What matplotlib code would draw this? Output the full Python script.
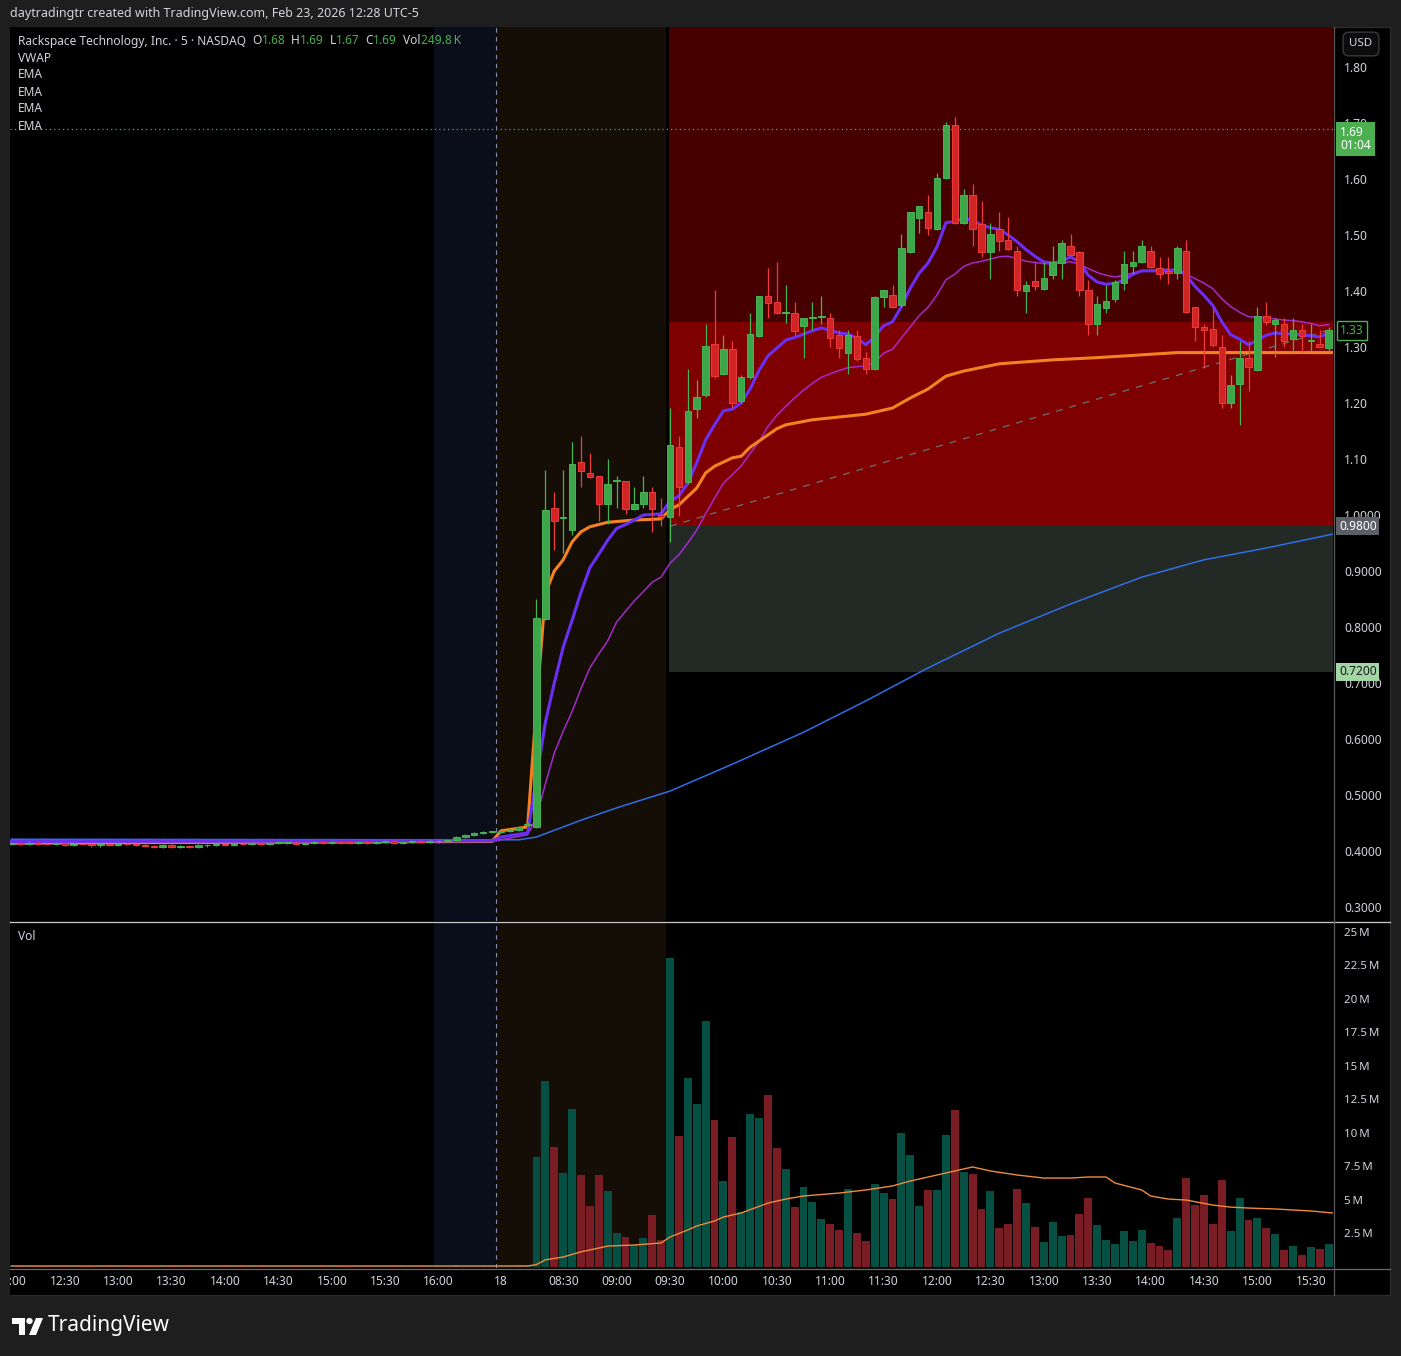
import matplotlib
matplotlib.use("Agg")
import matplotlib.pyplot as plt
import matplotlib.transforms as mtrans
from matplotlib.patches import Rectangle, Circle, Polygon
from matplotlib.lines import Line2D
import numpy as np

plt.rcParams['font.family'] = ['Noto Sans', 'DejaVu Sans']

W, H, DPI = 1401, 1356, 100

# ---------------- data ----------------
# bar index: 0 = 09:30 bar of Feb 18 regular session, 5-minute bars
first_bar = -74

opens = [
    0.413, 0.414, 0.413, 0.415, 0.413, 0.412, 0.414, 0.411, 0.413, 0.412, 0.410, 0.412, 0.411, 0.413, 0.412,
    0.411, 0.409, 0.408, 0.410, 0.407, 0.409, 0.408, 0.410, 0.411, 0.412, 0.411, 0.413, 0.412, 0.414, 0.413,
    0.414, 0.414, 0.415, 0.413, 0.414, 0.415, 0.414, 0.416, 0.415, 0.414, 0.416, 0.415, 0.416, 0.417, 0.415, 0.416, 0.417, 0.416,
    0.417, 0.418, 0.419, 0.425, 0.428, 0.432, 0.434,
    0.434, 0.436, 0.437, 0.446,
    0.443, 0.814, 1.0125, 0.994, 0.973, 1.095, 1.075, 1.070, 1.020, 1.060, 1.061, 1.011, 1.020, 1.041, 1.000,
    0.996, 1.121, 1.059, 1.189, 1.214, 1.305, 1.252, 1.296, 1.204, 1.246,
    1.320, 1.391, 1.380, 1.361, 1.361, 1.338, 1.352, 1.354, 1.352, 1.321,
    1.289, 1.320, 1.280, 1.261, 1.389, 1.393, 1.375, 1.470, 1.530, 1.541,
    1.511, 1.602, 1.696, 1.521, 1.571, 1.520, 1.470, 1.511, 1.491, 1.471,
    1.400, 1.418, 1.404, 1.429, 1.450, 1.480, 1.470, 1.402, 1.341, 1.370,
    1.386, 1.414, 1.445, 1.452, 1.471, 1.441, 1.436, 1.432, 1.471, 1.371,
    1.336, 1.332, 1.300, 1.200, 1.234, 1.280, 1.259, 1.355, 1.341, 1.341,
    1.314, 1.330, 1.311, 1.305, 1.298,
]
highs = [
    0.416, 0.416, 0.417, 0.417, 0.415, 0.416, 0.416, 0.415, 0.415, 0.414, 0.414, 0.414, 0.415, 0.415, 0.414,
    0.413, 0.411, 0.412, 0.412, 0.411, 0.411, 0.412, 0.413, 0.414, 0.414, 0.415, 0.415, 0.416, 0.416, 0.416,
    0.416, 0.417, 0.417, 0.416, 0.417, 0.417, 0.418, 0.418, 0.417, 0.418, 0.418, 0.418, 0.419, 0.419, 0.418, 0.419, 0.419, 0.419,
    0.420, 0.421, 0.427, 0.430, 0.434, 0.436, 0.436,
    0.438, 0.439, 0.444, 0.452,
    0.850, 1.080, 1.041, 1.080, 1.130, 1.141, 1.111, 1.070, 1.100, 1.070, 1.061, 1.050, 1.070, 1.050, 1.030,
    1.191, 1.141, 1.261, 1.241, 1.341, 1.402, 1.321, 1.311, 1.250, 1.361,
    1.391, 1.441, 1.452, 1.411, 1.380, 1.352, 1.380, 1.391, 1.361, 1.330,
    1.330, 1.330, 1.291, 1.391, 1.402, 1.411, 1.502, 1.541, 1.552, 1.571,
    1.611, 1.702, 1.711, 1.582, 1.591, 1.561, 1.521, 1.541, 1.532, 1.480,
    1.418, 1.452, 1.452, 1.480, 1.491, 1.502, 1.472, 1.420, 1.391, 1.411,
    1.420, 1.471, 1.471, 1.491, 1.480, 1.461, 1.461, 1.480, 1.491, 1.371,
    1.341, 1.370, 1.321, 1.250, 1.311, 1.311, 1.371, 1.380, 1.352, 1.352,
    1.352, 1.341, 1.341, 1.330, 1.336,
]
lows = [
    0.411, 0.411, 0.411, 0.411, 0.410, 0.410, 0.409, 0.409, 0.410, 0.408, 0.408, 0.409, 0.409, 0.410, 0.409,
    0.407, 0.406, 0.406, 0.405, 0.405, 0.406, 0.406, 0.408, 0.409, 0.409, 0.409, 0.410, 0.410, 0.411, 0.411,
    0.412, 0.412, 0.411, 0.411, 0.412, 0.412, 0.412, 0.413, 0.412, 0.412, 0.413, 0.413, 0.414, 0.413, 0.413, 0.414, 0.414, 0.414,
    0.415, 0.416, 0.417, 0.423, 0.426, 0.430, 0.432,
    0.432, 0.434, 0.435, 0.444,
    0.441, 0.812, 0.9375, 0.932, 0.964, 1.050, 1.066, 0.989, 0.984, 1.0125, 1.002, 1.009, 1.012, 0.970, 0.980,
    0.952, 0.998, 1.055, 1.173, 1.210, 1.245, 1.250, 1.191, 1.200, 1.243,
    1.318, 1.352, 1.359, 1.343, 1.321, 1.280, 1.330, 1.341, 1.300, 1.280,
    1.252, 1.275, 1.252, 1.259, 1.371, 1.369, 1.372, 1.468, 1.504, 1.500,
    1.509, 1.600, 1.519, 1.519, 1.480, 1.461, 1.421, 1.471, 1.473, 1.391,
    1.361, 1.402, 1.402, 1.421, 1.421, 1.462, 1.391, 1.321, 1.321, 1.361,
    1.380, 1.402, 1.430, 1.450, 1.441, 1.421, 1.412, 1.421, 1.360, 1.311,
    1.262, 1.300, 1.191, 1.191, 1.161, 1.221, 1.257, 1.340, 1.282, 1.300,
    1.291, 1.291, 1.291, 1.300, 1.291,
]
closes = [
    0.414, 0.413, 0.415, 0.413, 0.412, 0.414, 0.411, 0.413, 0.412, 0.410, 0.412, 0.411, 0.413, 0.412, 0.411,
    0.409, 0.408, 0.410, 0.407, 0.409, 0.408, 0.410, 0.411, 0.412, 0.411, 0.413, 0.412, 0.414, 0.413, 0.414,
    0.414, 0.415, 0.413, 0.414, 0.415, 0.414, 0.416, 0.415, 0.414, 0.416, 0.415, 0.416, 0.417, 0.415, 0.416, 0.417, 0.416, 0.417,
    0.418, 0.419, 0.425, 0.428, 0.432, 0.434, 0.434,
    0.436, 0.437, 0.442, 0.448,
    0.816, 1.009, 0.989, 0.996, 1.091, 1.079, 1.068, 1.020, 1.055, 1.062, 1.011, 1.020, 1.041, 1.011, 0.996,
    1.125, 1.050, 1.186, 1.211, 1.302, 1.248, 1.296, 1.200, 1.246, 1.323,
    1.391, 1.379, 1.361, 1.362, 1.329, 1.352, 1.353, 1.356, 1.316, 1.298,
    1.321, 1.279, 1.261, 1.389, 1.402, 1.371, 1.477, 1.541, 1.552, 1.512,
    1.602, 1.696, 1.521, 1.571, 1.511, 1.470, 1.502, 1.489, 1.475, 1.402,
    1.411, 1.409, 1.423, 1.452, 1.486, 1.464, 1.402, 1.341, 1.377, 1.382,
    1.416, 1.448, 1.452, 1.480, 1.443, 1.430, 1.432, 1.477, 1.362, 1.336,
    1.330, 1.304, 1.200, 1.232, 1.280, 1.264, 1.355, 1.345, 1.348, 1.311,
    1.330, 1.320, 1.312, 1.300, 1.330,
]
volumes_m = [
    0.06, 0.04, 0.05, 0.03, 0.05, 0.04, 0.06, 0.03, 0.04, 0.05, 0.03, 0.04, 0.05, 0.03, 0.04,
    0.05, 0.04, 0.03, 0.06, 0.04, 0.03, 0.05, 0.04, 0.03, 0.04, 0.05, 0.03, 0.04, 0.05, 0.03,
    0.04, 0.03, 0.05, 0.04, 0.03, 0.04, 0.05, 0.03, 0.04, 0.03, 0.05, 0.04, 0.03, 0.04, 0.05, 0.03, 0.04, 0.06,
    0.05, 0.04, 0.08, 0.06, 0.07, 0.05, 0.04,
    0.06, 0.05, 0.09, 0.12,
    8.18, 13.86, 8.93, 6.99, 11.77, 6.84, 4.52, 6.84, 5.64, 2.50, 2.21, 1.61, 2.13, 3.85, 1.98,
    23.06, 9.75, 14.09, 12.14, 18.35, 10.95, 6.39, 9.68, 4.07, 11.40,
    11.10, 12.82, 8.86, 7.29, 4.44, 5.94, 4.82, 3.55, 3.18, 2.73,
    5.79, 2.50, 1.91, 6.17, 5.49, 5.04, 9.98, 8.33, 4.52, 5.72,
    5.72, 9.83, 11.70, 7.06, 6.91, 4.30, 5.64, 2.88, 3.18, 5.79,
    4.74, 2.95, 1.83, 3.33, 2.28, 2.35, 3.92, 5.12, 3.10, 1.98,
    1.68, 2.65, 1.91, 2.73, 1.76, 1.53, 1.23, 3.63, 6.61, 4.59,
    5.34, 3.18, 6.46, 2.65, 5.12, 3.48, 3.63, 2.88, 2.43, 1.23,
    1.53, 0.86, 1.46, 1.31, 1.68,
]

# indicator lines: (bar index, value)
vwap_bar = [-74, -20, -19, -16, -15, -14, -13, -12, -11, -10, -9, -7, -4, -1, 0, 1, 3, 4, 5, 7, 8, 9, 11, 12, 13,
            16, 19, 22, 25, 27, 29, 31, 33, 37, 43, 48, 57, 74.5]
vwap_val = [0.414, 0.417, 0.436, 0.443, 0.66, 0.86, 0.90, 0.92, 0.952, 0.970, 0.979, 0.987, 0.991, 0.993, 1.010,
            1.018, 1.048, 1.075, 1.087, 1.102, 1.105, 1.121, 1.143, 1.154, 1.161, 1.170, 1.175, 1.180, 1.191,
            1.209, 1.225, 1.248, 1.257, 1.270, 1.277, 1.281, 1.290, 1.290]

ema_fast_head_bar = [-74, -20, -19, -17, -16]
ema_fast_head_val = [0.417, 0.418, 0.425, 0.430, 0.432]
ema_fast_val = [  # bars -15 .. 74
    0.53, 0.63, 0.70, 0.764, 0.812, 0.862, 0.906, 0.930, 0.955, 0.976, 0.983, 0.991, 1.000, 1.001, 1.002,
    1.025, 1.034, 1.057, 1.093, 1.134, 1.161, 1.186, 1.189, 1.200, 1.225,
    1.258, 1.284, 1.298, 1.312, 1.317, 1.323, 1.329, 1.334, 1.330, 1.325,
    1.323, 1.316, 1.304, 1.318, 1.338, 1.345, 1.372, 1.405, 1.432, 1.450,
    1.479, 1.522, 1.524, 1.530, 1.526, 1.518, 1.513, 1.510, 1.500, 1.488,
    1.474, 1.462, 1.452, 1.450, 1.453, 1.461, 1.452, 1.428, 1.416, 1.412,
    1.414, 1.419, 1.430, 1.436, 1.436, 1.436, 1.435, 1.440, 1.428, 1.408,
    1.392, 1.374, 1.345, 1.322, 1.314, 1.304, 1.312, 1.321, 1.325, 1.324,
    1.323, 1.322, 1.320, 1.318, 1.325,
]
ema_mid_head_bar = [-74, -20, -17, -16]
ema_mid_head_val = [0.416, 0.417, 0.426, 0.429]
ema_mid_val = [  # bars -15 .. 74
    0.46, 0.52, 0.575, 0.614, 0.649, 0.69, 0.727, 0.752, 0.775, 0.809, 0.828, 0.847, 0.863, 0.880, 0.889,
    0.914, 0.929, 0.950, 0.973, 1.002, 1.030, 1.057, 1.072, 1.088, 1.110,
    1.131, 1.158, 1.178, 1.194, 1.209, 1.223, 1.235, 1.246, 1.252, 1.258,
    1.263, 1.265, 1.266, 1.273, 1.289, 1.296, 1.316, 1.336, 1.356, 1.371,
    1.393, 1.420, 1.430, 1.444, 1.450, 1.453, 1.457, 1.461, 1.462, 1.458,
    1.453, 1.451, 1.449, 1.448, 1.451, 1.452, 1.448, 1.440, 1.433, 1.428,
    1.425, 1.428, 1.432, 1.435, 1.437, 1.438, 1.439, 1.437, 1.430, 1.422,
    1.414, 1.404, 1.386, 1.372, 1.362, 1.354, 1.353, 1.352, 1.350, 1.348,
    1.347, 1.345, 1.342, 1.338, 1.340,
]
ema_slow_bar = [-74, -17, -15, -13, -10, -6, 0, 7, 15, 22, 29, 37, 45, 53, 60, 67, 74.5]
ema_slow_val = [0.421, 0.420, 0.425, 0.437, 0.455, 0.477, 0.507, 0.555, 0.612, 0.668, 0.727, 0.789, 0.841,
                0.889, 0.920, 0.941, 0.966]

volma_bar = [-74, -16, -15, -14, -12, -10, -8, -7, -4, -1, 0, 2, 3, 5, 6, 8, 11, 13, 15, 19, 22, 25, 27, 28, 30,
             33, 34, 36, 39, 42, 45, 47, 49, 50, 53, 54, 56, 58, 61, 63, 65, 68, 72, 74.5]
volma_val = [0.04, 0.04, 0.15, 0.50, 0.71, 1.10, 1.38, 1.53, 1.61, 1.76, 2.21, 2.73, 3.03, 3.40, 3.70, 4.00,
             4.74, 5.04, 5.27, 5.49, 5.72, 6.02, 6.39, 6.54, 6.84, 7.29, 7.44, 7.14, 6.84, 6.61, 6.61, 6.69,
             6.69, 6.24, 5.72, 5.27, 5.04, 4.97, 4.59, 4.44, 4.37, 4.30, 4.15, 4.00]

# position tool (short) levels
entry_price = 0.98
target_price = 0.72
stop_price = 1.95
current_zone_price = 1.345
last_price = 1.69
last_close_label = 1.33

price_ticks = [1.80, 1.70, 1.60, 1.50, 1.40, 1.30, 1.20, 1.10, 1.00, 0.90, 0.80, 0.70, 0.60, 0.50, 0.40, 0.30]
price_tick_labels = ['1.80', '1.70', '1.60', '1.50', '1.40', '1.30', '1.20', '1.10', '1.0000', '0.9000',
                     '0.8000', '0.7000', '0.6000', '0.5000', '0.4000', '0.3000']
vol_ticks = [25, 22.5, 20, 17.5, 15, 12.5, 10, 7.5, 5, 2.5]
vol_tick_labels = ['25\u2009M', '22.5\u2009M', '20\u2009M', '17.5\u2009M', '15\u2009M', '12.5\u2009M',
                   '10\u2009M', '7.5\u2009M', '5\u2009M', '2.5\u2009M']
time_tick_bars = [-74, -68, -62, -56, -50, -44, -38, -32, -26, -19, -12, -6, 0, 6, 12, 18, 24, 30, 36, 42, 48,
                  54, 60, 66, 72]
time_tick_labels = ['12:00', '12:30', '13:00', '13:30', '14:00', '14:30', '15:00', '15:30', '16:00', '18',
                    '08:30', '09:00', '09:30', '10:00', '10:30', '11:00', '11:30', '12:00', '12:30', '13:00',
                    '13:30', '14:00', '14:30', '15:00', '15:30']
post_market_span = (-26.5, -19.5)
pre_market_span = (-19.5, -0.45)
session_break = -19.5

# ---------------- styling ----------------
BG_OUT = '#1e1e1e'
TXT = '#d1d4dc'
GREEN_TXT = '#4caf50'
UP_FACE, UP_EDGE = '#3ea64a', '#47b453'
DN_FACE, DN_EDGE = '#d12424', '#ee3b3b'
VOL_UP, VOL_DN = '#064f43', '#7a1c24'

bars = np.arange(first_bar, first_bar + len(closes))
o = np.array(opens); hgh = np.array(highs); low = np.array(lows); c = np.array(closes)
vol = np.array(volumes_m)
up = c >= o

fig = plt.figure(figsize=(W / DPI, H / DPI), dpi=DPI, facecolor=BG_OUT)


def fr(x0, y0, x1, y1):
    return [x0 / W, 1 - y1 / H, (x1 - x0) / W, (y1 - y0) / H]


# black chart panel (behind the axes)
fig.patches.append(Rectangle((10 / W, 1 - 1295 / H), 1380 / W, 1268 / H, transform=fig.transFigure,
                             facecolor='#000000', edgecolor='#2a2a2a', lw=1, zorder=-10))

ax = fig.add_axes(fr(10, 27, 1333, 921))
axv = fig.add_axes(fr(10, 923, 1333, 1268), sharex=ax)
axx = fig.add_axes(fr(10, 1268, 1333, 1295), sharex=ax)

xlim = (first_bar - 0.157, 74.494)
for a in (ax, axv, axx):
    a.set_facecolor('#000000')
    for s in a.spines.values():
        s.set_visible(False)
    a.tick_params(axis='x', which='both', bottom=False, labelbottom=False)
ax.set_xlim(*xlim)
ax.set_ylim(0.275, 1.8714)
axv.set_ylim(-0.11, 25.67)
axx.set_ylim(0, 1)
axx.set_yticks([])

# session shading
for a in (ax, axv):
    a.axvspan(*post_market_span, color='#0a0e1b', lw=0, zorder=0)
    a.axvspan(*pre_market_span, color='#150e06', lw=0, zorder=0)
    a.axvline(session_break, color='#7f8fb8', lw=0.8, ls=(0, (4, 4)), zorder=1)

# position tool
x_left = -0.12
x_w = xlim[1] - x_left
ax.add_patch(Rectangle((x_left, entry_price), x_w, stop_price - entry_price, facecolor='#470000',
                       edgecolor='none', zorder=1))
ax.add_patch(Rectangle((x_left, entry_price), x_w, current_zone_price - entry_price, facecolor='#7f0000',
                       edgecolor='none', zorder=1))
ax.add_patch(Rectangle((x_left, target_price), x_w, entry_price - target_price, facecolor='#232a25',
                       edgecolor='none', zorder=1))
ax.plot([0, bars[-1]], [entry_price, c[-1]], color='#6a6a6a', lw=1.0, ls=(0, (5, 5)), zorder=2)

# current price dotted line
ax.axhline(last_price, color='#4caf50', lw=0.9, ls=(0, (1, 2.5)), zorder=2)

# indicator lines
ax.plot(ema_slow_bar, ema_slow_val, color='#2f6ee8', lw=1.1, zorder=3)
ax.plot(ema_mid_head_bar + list(range(-15, 75)), ema_mid_head_val + ema_mid_val, color='#a22bd0', lw=1.1,
        zorder=3)
ax.plot(vwap_bar, vwap_val, color='#f58220', lw=2.2, zorder=3)
ax.plot(ema_fast_head_bar + list(range(-15, 75)), ema_fast_head_val + ema_fast_val, color='#6a2ff5', lw=2.2,
        zorder=3)

# candles
ax.vlines(bars, low, hgh, colors=np.where(up, UP_EDGE, DN_EDGE), lw=0.9, zorder=4)
body_lo = np.minimum(o, c)
body_h = np.maximum(np.abs(c - o), 0.0012)
ax.bar(bars, body_h, bottom=body_lo, width=0.74, color=np.where(up, UP_FACE, DN_FACE),
       edgecolor=np.where(up, UP_EDGE, DN_EDGE), lw=0.7, zorder=5)

# volume
axv.bar(bars, vol, width=0.88, color=np.where(up, VOL_UP, VOL_DN), lw=0, zorder=3)
axv.plot(volma_bar, volma_val, color='#f08a3c', lw=1.0, zorder=4)

# right axes ticks
ax.yaxis.tick_right()
ax.set_yticks(price_ticks)
ax.set_yticklabels(price_tick_labels)
ax.tick_params(axis='y', length=0, pad=8, labelsize=8.6, labelcolor=TXT)
axv.yaxis.tick_right()
axv.set_yticks(vol_ticks)
axv.set_yticklabels(vol_tick_labels)
axv.tick_params(axis='y', length=0, pad=8, labelsize=8.3, labelcolor=TXT)

# time labels
for b, lab in zip(time_tick_bars, time_tick_labels):
    axx.text(b, 0.5, lab, ha='center', va='center', fontsize=8.6, color=TXT, clip_on=True)

# separators
fig.add_artist(Line2D([10 / W, 1390 / W], [1 - 922 / H] * 2, color='#c9c9c9', lw=0.9))
fig.add_artist(Line2D([10 / W, 1390 / W], [1 - 1268.5 / H] * 2, color='#6a6a6a', lw=0.9))
fig.add_artist(Line2D([1333.5 / W] * 2, [1 - 27 / H, 1 - 1295 / H], color='#5a5a5a', lw=0.9))

# price labels on the axis
blend = mtrans.blended_transform_factory(ax.transAxes, ax.transData)
ax.text(1.0, entry_price, '0.9800', transform=mtrans.offset_copy(blend, fig=fig, x=6, y=0, units='dots'),
        ha='left', va='center', fontsize=8.6, color='white', clip_on=False, zorder=10,
        bbox=dict(boxstyle='square,pad=0.22', fc='#5d5f66', ec='none'))
ax.text(1.0, target_price, '0.7200', transform=mtrans.offset_copy(blend, fig=fig, x=6, y=0, units='dots'),
        ha='left', va='center', fontsize=8.6, color='#1b1b1b', clip_on=False, zorder=10,
        bbox=dict(boxstyle='square,pad=0.22', fc='#a3d6a5', ec='none'))
ax.text(1.0, last_close_label, '1.33', transform=mtrans.offset_copy(blend, fig=fig, x=7, y=0, units='dots'),
        ha='left', va='center', fontsize=8.6, color='#4caf50', clip_on=False, zorder=10,
        bbox=dict(boxstyle='square,pad=0.25', fc='#000000', ec='#4caf50', lw=1))
ax.text(1.0, last_price, '1.69\n01:04', transform=mtrans.offset_copy(blend, fig=fig, x=7, y=3, units='dots'),
        ha='left', va='top', fontsize=8.6, color='white', fontweight='semibold', clip_on=False, zorder=10,
        linespacing=1.05, bbox=dict(boxstyle='square,pad=0.32', fc='#4caf50', ec='none'))

# USD box
fig.text(1361 / W, 1 - 44 / H, 'USD', ha='center', va='center', fontsize=8.3, color=TXT,
         bbox=dict(boxstyle='round,pad=0.55,rounding_size=0.5', fc='#0c0c0c', ec='#3a3a3a', lw=1))

# header texts
fig.text(10 / W, 1 - 14 / H, 'daytradingtr created with TradingView.com, Feb 23, 2026 12:28 UTC-5',
         ha='left', va='center', fontsize=9, color=TXT)

renderer = fig.canvas.get_renderer()
pieces = [('Rackspace Technology, Inc. \u00b7 5 \u00b7 NASDAQ', TXT, 6), ('O', TXT, 0), ('1.68', GREEN_TXT, 6),
          ('H', TXT, 0), ('1.69', GREEN_TXT, 6), ('L', TXT, 0), ('1.67', GREEN_TXT, 6),
          ('C', TXT, 0), ('1.69', GREEN_TXT, 6), ('Vol', TXT, 0), ('249.8\u2009K', GREEN_TXT, 0)]
xp = 18
for txt, col, gap in pieces:
    t = fig.text(xp / W, 1 - 41 / H, txt, ha='left', va='center', fontsize=8.6, color=col)
    xp += t.get_window_extent(renderer=renderer).width + gap
for k, lab in enumerate(['VWAP', 'EMA', 'EMA', 'EMA', 'EMA']):
    fig.text(18 / W, 1 - (58 + 17 * k) / H, lab, ha='left', va='center', fontsize=8.6, color=TXT)
fig.text(18 / W, 1 - 937 / H, 'Vol', ha='left', va='center', fontsize=8.6, color=TXT)

# TradingView logo
fig.patches.append(Polygon([(12 / W, 1 - 1318 / H), (25 / W, 1 - 1318 / H), (25 / W, 1 - 1335 / H),
                            (19 / W, 1 - 1335 / H), (19 / W, 1 - 1324 / H), (12 / W, 1 - 1324 / H)],
                           closed=True, transform=fig.transFigure, facecolor='white', edgecolor='none'))
fig.patches.append(Circle((29.5 / W, 1 - 1321 / H), 3.2 / W, transform=fig.transFigure, facecolor='white',
                          edgecolor='none'))
fig.patches.append(Polygon([(36 / W, 1 - 1318 / H), (43 / W, 1 - 1318 / H), (36 / W, 1 - 1335 / H),
                            (29 / W, 1 - 1335 / H)], closed=True, transform=fig.transFigure, facecolor='white',
                           edgecolor='none'))
fig.text(48 / W, 1 - 1326 / H, 'TradingView', ha='left', va='center', fontsize=15, color='white',
         fontweight='bold')

fig.savefig('out.png', dpi=DPI, facecolor=BG_OUT)
